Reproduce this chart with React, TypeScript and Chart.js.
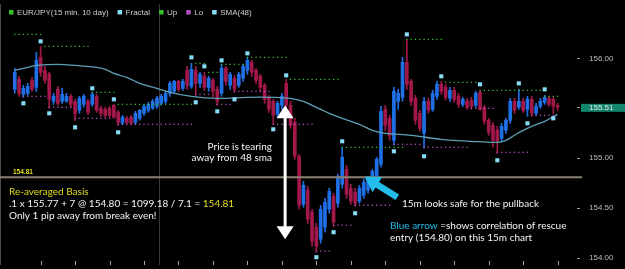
import React, { useEffect, useRef } from "react";
import { Chart, registerables } from "chart.js";

Chart.register(...registerables);

// ---- data ---------------------------------------------------------------
const BAR_COUNT = 133;
const FIRST_BAR = 2;
const categories = Array.from({ length: BAR_COUNT }, (_, i) => `bar ${i + 1}`);

const open = [
  155.69, 155.79, 155.64, 155.65, 155.78, 155.71, 156.01, 155.88, 155.84, 155.57,
  155.69, 155.57, 155.57, 155.62, 155.57, 155.48, 155.54, 155.57, 155.54, 155.62,
  155.5, 155.49, 155.5, 155.53, 155.46, 155.35, 155.4, 155.41, 155.36, 155.4,
  155.45, 155.48, 155.5, 155.52, 155.55, 155.57, 155.65, 155.67, 155.77, 155.7,
  155.88, 155.72, 155.88, 155.75, 155.82, 155.71, 155.78, 155.69, 155.65, 155.9,
  155.73, 155.8, 155.73, 155.8, 155.88, 155.96, 155.88, 155.82, 155.73, 155.61,
  155.57, 155.44, 155.53, 155.75, 155.53, 155.36, 155.02, 154.54, 154.68, 154.46,
  154.31, 154.19, 154.31, 154.49, 154.62, 154.55, 154.74, 154.89, 154.7, 154.66,
  154.57, 154.63, 154.68, 154.76, 154.82, 154.94, 155.49, 155.4, 155.18, 155.57,
  155.61, 155.96, 155.77, 155.6, 155.45, 155.25, 155.57, 155.49, 155.62, 155.74,
  155.71, 155.6, 155.68, 155.62, 155.54, 155.57, 155.58, 155.53, 155.66, 155.51,
  155.38, 155.33, 155.28, 155.2, 155.28, 155.38, 155.57, 155.51, 155.57, 155.49,
  155.59, 155.45, 155.52, 155.56, 155.6, 155.59, 155.53,
];
const high = [
  155.9, 155.82, 155.73, 155.75, 155.81, 156.06, 156.12, 155.92, 155.86, 155.65,
  155.72, 155.7, 155.65, 155.64, 155.59, 155.62, 155.64, 155.59, 155.66, 155.64,
  155.52, 155.51, 155.52, 155.54, 155.48, 155.43, 155.42, 155.43, 155.47, 155.49,
  155.54, 155.56, 155.59, 155.62, 155.64, 155.67, 155.77, 155.78, 155.78, 155.79,
  155.92, 155.95, 155.92, 155.86, 155.86, 155.82, 155.8, 155.72, 155.94, 155.92,
  155.86, 155.83, 155.86, 155.94, 156.01, 155.98, 155.9, 155.84, 155.75, 155.63,
  155.59, 155.57, 155.65, 155.79, 155.57, 155.4, 155.04, 154.77, 154.72, 154.49,
  154.35, 154.53, 154.6, 154.7, 154.65, 154.84, 155.11, 154.93, 154.74, 154.7,
  154.73, 154.79, 154.82, 154.89, 155.01, 155.52, 155.53, 155.43, 155.71, 155.69,
  156.01, 156.19, 155.79, 155.63, 155.48, 155.61, 155.6, 155.68, 155.77, 155.77,
  155.74, 155.71, 155.71, 155.65, 155.61, 155.6, 155.61, 155.67, 155.68, 155.53,
  155.4, 155.36, 155.32, 155.35, 155.4, 155.6, 155.6, 155.69, 155.6, 155.62,
  155.62, 155.55, 155.6, 155.63, 155.62, 155.61, 155.55,
];
const low = [
  155.65, 155.62, 155.61, 155.63, 155.67, 155.67, 155.82, 155.75, 155.5, 155.54,
  155.53, 155.55, 155.56, 155.51, 155.38, 155.45, 155.51, 155.44, 155.52, 155.46,
  155.42, 155.41, 155.41, 155.4, 155.33, 155.34, 155.34, 155.34, 155.34, 155.38,
  155.43, 155.46, 155.49, 155.5, 155.53, 155.55, 155.62, 155.65, 155.67, 155.68,
  155.69, 155.7, 155.63, 155.71, 155.68, 155.67, 155.61, 155.53, 155.62, 155.73,
  155.69, 155.66, 155.71, 155.77, 155.84, 155.82, 155.75, 155.67, 155.55, 155.46,
  155.34, 155.41, 155.49, 155.51, 155.3, 154.99, 154.49, 154.51, 154.35, 154.12,
  154.06, 154.15, 154.26, 154.45, 154.32, 154.51, 154.7, 154.6, 154.54, 154.52,
  154.55, 154.6, 154.65, 154.73, 154.79, 154.91, 155.28, 155.18, 155.13, 155.49,
  155.57, 155.69, 155.53, 155.34, 155.27, 155.1, 155.45, 155.47, 155.59, 155.64,
  155.58, 155.57, 155.56, 155.51, 155.52, 155.49, 155.49, 155.51, 155.48, 155.34,
  155.23, 155.11, 155.05, 155.17, 155.25, 155.35, 155.45, 155.49, 155.46, 155.42,
  155.42, 155.43, 155.5, 155.54, 155.52, 155.45, 155.48,
];
const close = [
  155.86, 155.65, 155.7, 155.72, 155.69, 155.98, 155.86, 155.78, 155.59, 155.62,
  155.55, 155.64, 155.62, 155.54, 155.45, 155.6, 155.62, 155.46, 155.64, 155.48,
  155.45, 155.43, 155.43, 155.41, 155.36, 155.41, 155.36, 155.35, 155.45, 155.48,
  155.52, 155.54, 155.57, 155.6, 155.62, 155.65, 155.75, 155.77, 155.69, 155.77,
  155.73, 155.89, 155.75, 155.84, 155.71, 155.8, 155.67, 155.57, 155.9, 155.77,
  155.84, 155.69, 155.84, 155.92, 155.98, 155.86, 155.78, 155.71, 155.59, 155.49,
  155.43, 155.55, 155.62, 155.53, 155.33, 155.02, 154.53, 154.73, 154.39, 154.17,
  154.12, 154.49, 154.56, 154.67, 154.36, 154.8, 155.01, 154.64, 154.57, 154.55,
  154.7, 154.76, 154.79, 154.87, 154.99, 155.47, 155.33, 155.23, 155.67, 155.65,
  155.96, 155.74, 155.57, 155.38, 155.3, 155.57, 155.48, 155.65, 155.74, 155.67,
  155.61, 155.68, 155.59, 155.54, 155.59, 155.51, 155.52, 155.65, 155.49, 155.37,
  155.26, 155.18, 155.17, 155.32, 155.38, 155.57, 155.48, 155.57, 155.48, 155.59,
  155.45, 155.52, 155.57, 155.61, 155.54, 155.52, 155.51,
];

const smaBars = [2, 5, 7, 12, 16, 21, 23, 25, 28, 31, 35, 38, 43, 49, 56, 62, 66, 69, 71, 73, 75, 78, 82, 85, 88, 94, 101, 108, 114, 116, 118, 120, 122, 125, 128];
const smaValues = [155.88, 155.91, 155.93, 155.94, 155.93, 155.91, 155.89, 155.85, 155.81, 155.75, 155.7, 155.66, 155.62, 155.6, 155.61, 155.61, 155.6, 155.57, 155.53, 155.49, 155.45, 155.4, 155.34, 155.28, 155.25, 155.23, 155.19, 155.17, 155.16, 155.18, 155.23, 155.28, 155.32, 155.37, 155.44];

const fractalUpBars = [8, 20, 25, 43, 46, 50, 56, 65, 78, 93, 101, 110, 119, 125];
const fractalUpValues = [156.17, 155.7, 155.59, 156.01, 155.92, 155.98, 156.05, 155.83, 155.17, 156.24, 155.82, 155.74, 155.75, 155.69];
const fractalLoBars = [4, 10, 16, 26, 44, 49, 53, 62, 72, 76, 81, 90, 97, 114, 121, 127];
const fractalLoValues = [155.55, 155.45, 155.31, 155.26, 155.56, 155.47, 155.59, 155.29, 154.01, 154.26, 154.45, 155.07, 155.02, 154.98, 155.35, 155.4];

const upLevelStart = [2, 9, 20, 26, 44, 47, 50, 56, 66, 78, 93, 102, 110, 125];
const upLevelEnd = [8, 19, 25, 43, 46, 49, 55, 65, 77, 92, 101, 109, 124, 128];
const upLevelValue = [156.24, 156.12, 155.66, 155.54, 155.95, 155.86, 155.94, 156.01, 155.79, 155.11, 156.19, 155.76, 155.68, 155.62];

const loLevelStart = [2, 4, 10, 16, 26, 44, 49, 53, 62, 72, 76, 81, 90, 97, 108, 114, 122];
const loLevelEnd = [3, 9, 15, 24, 43, 47, 52, 61, 71, 75, 80, 89, 96, 107, 113, 121, 127];
const loLevelValue = [155.77, 155.62, 155.51, 155.4, 155.34, 155.64, 155.54, 155.67, 155.34, 154.07, 154.33, 154.53, 155.14, 155.11, 155.5, 155.06, 155.43];

const yTicks = [154.0, 154.5, 155.0, 156.0];
const lastPrice = 155.51;
const basisPrice = 154.81;
const daySeparatorBar = 35.5;
const axisTickEvery = 8;

// ---- styles -------------------------------------------------------------
const UP_COLOR = "#1f70e6";
const DOWN_COLOR = "#a3184b";
const SMA_COLOR = "#5f9fb6";
const FRACTAL_COLOR = "#84dcf5";
const UPLVL_COLOR = "#35c02a";
const LOLVL_COLOR = "#b24fc2";
const WHITE = "#f4f4f4";
const YELLOW = "#e4dc1e";
const CYAN = "#22bdea";
const TEXT_FONT = '"Lato", "DejaVu Sans", sans-serif';
const UI_FONT = '"Liberation Sans", Arial, sans-serif';

function fullSeries(): (number | null)[] {
  return new Array(BAR_COUNT).fill(null);
}

export default function App() {
  const ref = useRef<HTMLCanvasElement | null>(null);

  useEffect(() => {
    const canvas = ref.current;
    if (!canvas) return;

    const wick = fullSeries() as any[];
    const body = fullSeries() as any[];
    const colors: string[] = new Array(BAR_COUNT).fill(UP_COLOR);
    for (let k = 0; k < open.length; k++) {
      const i = FIRST_BAR + k;
      wick[i] = [low[k], high[k]];
      body[i] = [open[k], close[k]];
      colors[i] = close[k] >= open[k] ? UP_COLOR : DOWN_COLOR;
    }
    const sma = fullSeries();
    smaBars.forEach((b, k) => (sma[b] = smaValues[k]));
    const fUp = fullSeries();
    fractalUpBars.forEach((b, k) => (fUp[b] = fractalUpValues[k]));
    const fLo = fullSeries();
    fractalLoBars.forEach((b, k) => (fLo[b] = fractalLoValues[k]));
    const upLvl = fullSeries();
    upLevelStart.forEach((s, k) => {
      for (let i = s; i <= upLevelEnd[k]; i++) upLvl[i] = upLevelValue[k];
    });
    const loLvl = fullSeries();
    loLevelStart.forEach((s, k) => {
      for (let i = s; i <= loLevelEnd[k]; i++) loLvl[i] = loLevelValue[k];
    });

    const legendItems = [
      { text: "EUR/JPY(15 min. 10 day)", color: UPLVL_COLOR },
      { text: "Fractal", color: FRACTAL_COLOR },
      { text: "Up", color: UPLVL_COLOR },
      { text: "Lo", color: LOLVL_COLOR },
      { text: "SMA(48)", color: FRACTAL_COLOR },
    ];

    type Run = [string, string];
    const notes: { runs: Run[]; x: number; y: number; align?: "left" | "right" }[] = [
      { runs: [["Price is tearing", WHITE]], x: 272, y: 150, align: "right" },
      { runs: [["away from 48 sma", WHITE]], x: 272, y: 161, align: "right" },
      { runs: [["Re-averaged Basis", YELLOW]], x: 9, y: 194.5 },
      { runs: [[".1 x 155.77 + 7 @ 154.80 = 1099.18 / 7.1 = ", WHITE], ["154.81", YELLOW]], x: 9, y: 206.5 },
      { runs: [["Only 1 pip away from break even!", WHITE]], x: 9, y: 218.5 },
      { runs: [["15m looks safe for the pullback", WHITE]], x: 402, y: 207 },
      { runs: [["Blue arrow", CYAN], [" =shows correlation of rescue", WHITE]], x: 390, y: 229 },
      { runs: [["entry (154.80) on this 15m chart", WHITE]], x: 390, y: 241 },
    ];

    const overlay = {
      id: "overlay",
      beforeDraw(chart: any) {
        const { ctx, width, height } = chart;
        ctx.save();
        ctx.fillStyle = "#000";
        ctx.fillRect(0, 0, width, height);
        ctx.restore();
      },
      beforeDatasetsDraw(chart: any) {
        const { ctx, chartArea } = chart;
        const xs = chart.scales.x;
        ctx.save();
        ctx.strokeStyle = "#4a4a4a";
        ctx.lineWidth = 1;
        ctx.beginPath();
        ctx.moveTo(0.5, chartArea.top);
        ctx.lineTo(0.5, chartArea.bottom);
        ctx.stroke();
        const sx = Math.round(xs.getPixelForValue(daySeparatorBar)) + 0.5;
        ctx.strokeStyle = "#383838";
        ctx.beginPath();
        ctx.moveTo(sx, chartArea.top);
        ctx.lineTo(sx, chartArea.bottom);
        ctx.stroke();
        ctx.strokeStyle = "#a8a8a8";
        for (let i = axisTickEvery; i < BAR_COUNT; i += axisTickEvery) {
          const tx = Math.round(xs.getPixelForValue(i)) + 0.5;
          ctx.beginPath();
          ctx.moveTo(tx, chartArea.bottom - 4);
          ctx.lineTo(tx, chartArea.bottom);
          ctx.stroke();
        }
        ctx.restore();
      },
      afterDraw(chart: any) {
        const { ctx, chartArea, width } = chart;
        const xs = chart.scales.x;
        const ys = chart.scales.y;
        ctx.save();

        const by = ys.getPixelForValue(basisPrice);
        ctx.strokeStyle = "#8a8272";
        ctx.lineWidth = 2;
        ctx.beginPath();
        ctx.moveTo(0, by);
        ctx.lineTo(chartArea.right + 5, by);
        ctx.stroke();
        ctx.font = `bold 6.5px ${UI_FONT}`;
        ctx.fillStyle = YELLOW;
        ctx.textAlign = "left";
        ctx.textBaseline = "alphabetic";
        ctx.fillText(basisPrice.toFixed(2), 13, by - 3);

        const ly = ys.getPixelForValue(lastPrice);
        ctx.fillStyle = "#12866c";
        ctx.fillRect(chartArea.right + 4, ly - 3.5, width - chartArea.right - 4, 8);
        ctx.strokeStyle = "#9a9a9a";
        ctx.lineWidth = 1;
        ctx.beginPath();
        ctx.moveTo(chartArea.right, Math.round(ly) + 0.5);
        ctx.lineTo(chartArea.right + 3, Math.round(ly) + 0.5);
        ctx.stroke();
        ctx.fillStyle = "#e6e6e6";
        ctx.font = `8px ${UI_FONT}`;
        ctx.textBaseline = "middle";
        ctx.fillText(lastPrice.toFixed(2), chartArea.right + 12, ly + 0.5);

        ctx.textBaseline = "alphabetic";
        ctx.font = `8px ${UI_FONT}`;
        let lx = 9;
        for (const it of legendItems) {
          ctx.fillStyle = it.color;
          ctx.fillRect(lx, 10, 4.5, 4.5);
          ctx.fillStyle = "#cfcfcf";
          ctx.fillText(it.text, lx + 8, 15);
          lx += 8 + ctx.measureText(it.text).width + 9;
        }

        // white double arrow
        const ax = xs.getPixelForValue(64.75);
        const aTop = ys.getPixelForValue(155.53);
        const aBot = ys.getPixelForValue(154.19);
        const hl = 13;
        const hw = 8.5;
        ctx.fillStyle = "#ffffff";
        ctx.fillRect(ax - 1.5, aTop + hl - 1, 3, aBot - aTop - 2 * hl + 2);
        ctx.beginPath();
        ctx.moveTo(ax, aTop);
        ctx.lineTo(ax - hw, aTop + hl);
        ctx.lineTo(ax + hw, aTop + hl);
        ctx.closePath();
        ctx.fill();
        ctx.beginPath();
        ctx.moveTo(ax, aBot);
        ctx.lineTo(ax - hw, aBot - hl);
        ctx.lineTo(ax + hw, aBot - hl);
        ctx.closePath();
        ctx.fill();

        // cyan arrow
        const tipX = xs.getPixelForValue(83.2);
        const tipY = ys.getPixelForValue(154.815);
        const tailX = xs.getPixelForValue(90.8);
        const tailY = ys.getPixelForValue(154.61);
        const len = Math.hypot(tailX - tipX, tailY - tipY);
        const ang = Math.atan2(tipY - tailY, tipX - tailX);
        ctx.translate(tipX, tipY);
        ctx.rotate(ang);
        ctx.fillStyle = CYAN;
        const chl = 15;
        const chw = 9;
        const sh = 3.3;
        ctx.beginPath();
        ctx.moveTo(0, 0);
        ctx.lineTo(-chl, -chw);
        ctx.lineTo(-chl, -sh);
        ctx.lineTo(-len, -sh);
        ctx.lineTo(-len, sh);
        ctx.lineTo(-chl, sh);
        ctx.lineTo(-chl, chw);
        ctx.closePath();
        ctx.fill();
        ctx.setTransform(chart.currentDevicePixelRatio, 0, 0, chart.currentDevicePixelRatio, 0, 0);

        ctx.font = `10px ${TEXT_FONT}`;
        ctx.textBaseline = "alphabetic";
        ctx.textAlign = "left";
        for (const n of notes) {
          const total = n.runs.reduce((s, r) => s + ctx.measureText(r[0]).width, 0);
          let cx = n.align === "right" ? n.x - total : n.x;
          for (const [t, c] of n.runs) {
            ctx.fillStyle = c;
            ctx.fillText(t, cx, n.y);
            cx += ctx.measureText(t).width;
          }
        }
        ctx.restore();
      },
    };

    const chart = new Chart(canvas, {
      type: "bar",
      data: {
        labels: categories,
        datasets: [
          {
            type: "line",
            label: "Fractal up",
            data: fUp,
            showLine: false,
            pointStyle: "rect",
            pointRadius: 2.9,
            pointBackgroundColor: FRACTAL_COLOR,
            pointBorderWidth: 0,
            order: 0,
          },
          {
            type: "line",
            label: "Fractal lo",
            data: fLo,
            showLine: false,
            pointStyle: "rect",
            pointRadius: 2.9,
            pointBackgroundColor: FRACTAL_COLOR,
            pointBorderWidth: 0,
            order: 0,
          },
          {
            type: "line",
            label: "Up",
            data: upLvl,
            showLine: false,
            pointStyle: "rect",
            pointRadius: 0.9,
            pointBackgroundColor: UPLVL_COLOR,
            pointBorderWidth: 0,
            order: 1,
          },
          {
            type: "line",
            label: "Lo",
            data: loLvl,
            showLine: false,
            pointStyle: "rect",
            pointRadius: 0.9,
            pointBackgroundColor: LOLVL_COLOR,
            pointBorderWidth: 0,
            order: 1,
          },
          {
            type: "line",
            label: "SMA(48)",
            data: sma,
            borderColor: SMA_COLOR,
            borderWidth: 1.3,
            pointRadius: 0,
            spanGaps: true,
            tension: 0.35,
            order: 2,
          },
          {
            type: "bar",
            label: "body",
            data: body,
            backgroundColor: colors,
            barThickness: 3,
            minBarLength: 1,
            grouped: false,
            borderWidth: 0,
            order: 3,
          },
          {
            type: "bar",
            label: "wick",
            data: wick,
            backgroundColor: colors,
            barThickness: 1,
            grouped: false,
            borderWidth: 0,
            order: 4,
          },
        ] as any,
      },
      options: {
        animation: false,
        responsive: true,
        maintainAspectRatio: false,
        events: [],
        layout: { padding: 0 },
        plugins: { legend: { display: false }, tooltip: { enabled: false } },
        scales: {
          x: { type: "category", display: false, offset: true, grid: { display: false } },
          y: {
            position: "right",
            min: 153.932,
            max: 156.544,
            afterBuildTicks: (s: any) => {
              s.ticks = yTicks.map((v) => ({ value: v }));
            },
            afterFit: (s: any) => {
              s.width = 48;
              s.paddingTop = 0;
              s.paddingBottom = 0;
            },
            border: { display: false },
            grid: { drawOnChartArea: false, drawTicks: true, tickLength: 3, color: "#9a9a9a" },
            ticks: {
              color: "#bdbdbd",
              padding: 9,
              font: { family: UI_FONT, size: 8 },
              callback: (v: any) => Number(v).toFixed(2),
            },
          },
        },
      } as any,
      plugins: [overlay],
    });

    return () => chart.destroy();
  }, []);

  return (
    <div style={{ position: "fixed", left: 0, top: 0, width: 625, height: 269, background: "#000" }}>
      <canvas ref={ref} />
    </div>
  );
}
